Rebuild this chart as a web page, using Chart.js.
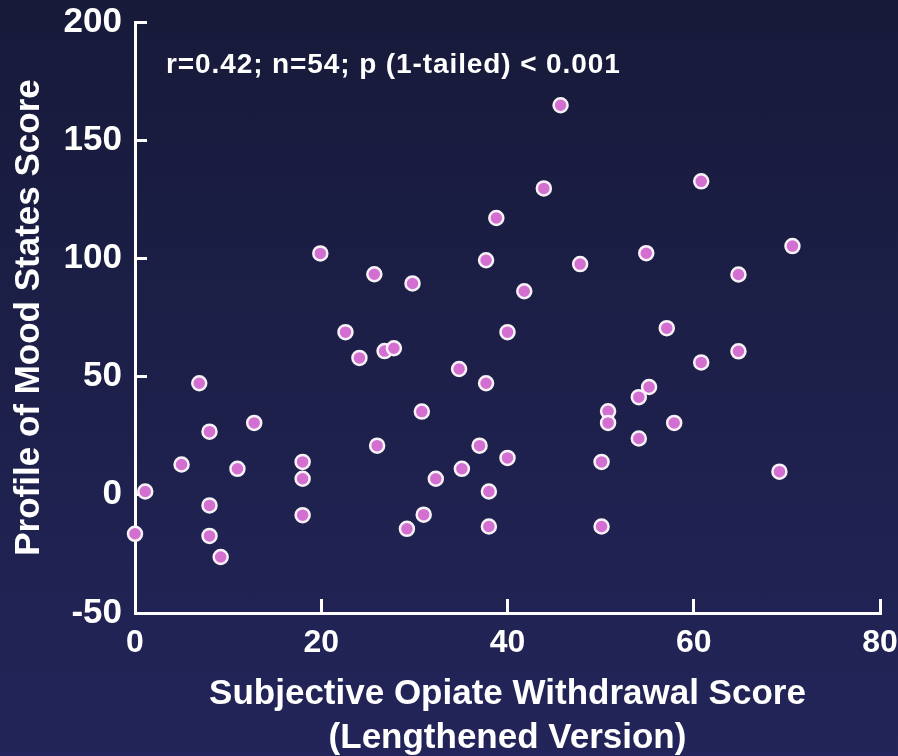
<!DOCTYPE html>
<html>
<head>
<meta charset="utf-8">
<script src="https://cdn.jsdelivr.net/npm/chart.js@4.4.1/dist/chart.umd.min.js"></script>
<style>
  html, body { margin: 0; padding: 0; }
  body {
    width: 898px;
    height: 756px;
    overflow: hidden;
    background: linear-gradient(to bottom, #171a39, #23255a);
  }
  canvas { display: block; }
</style>
</head>
<body>
<canvas id="chart" width="898" height="756"></canvas>
<script>
// Subjective Opiate Withdrawal Score (x) vs Profile of Mood States Score (y)
const withdrawalScores = [
  0, 1.1, 5.0, 6.9, 8.0, 8.0, 8.0, 9.2, 11.0, 12.8,
  18.0, 18.0, 18.0, 19.9, 22.6, 24.1, 25.7, 26.0, 26.8, 27.8,
  29.8, 29.2, 30.8, 31.0, 32.3, 34.8, 35.1, 37.0, 37.7, 37.7,
  38.0, 38.0, 38.8, 40.0, 40.0, 41.8, 43.9, 45.7, 47.8, 50.1,
  50.1, 50.8, 50.8, 54.1, 54.1, 54.9, 55.2, 57.1, 57.9, 60.8,
  60.8, 64.8, 64.8, 69.2, 70.6
];
const moodScores = [
  -16.5, 1.4, 12.8, 47.2, 26.7, -4.5, -17.4, -26.3, 11.0, 30.4,
  13.9, 6.8, -8.6, 102.1, 68.8, 57.9, 93.3, 20.8, 60.8, 62.0,
  89.4, -14.4, 35.2, -8.4, 6.8, 53.2, 11.0, 20.8, 99.2, 47.2,
  1.4, -13.4, 117.1, 68.8, 15.6, 86.1, 129.6, 164.8, 97.6, 13.9,
  -13.4, 35.3, 30.4, 41.3, 23.8, 102.2, 45.6, 70.5, 30.4, 132.6,
  56.0, 93.2, 60.7, 9.8, 105.2
];
const xTicks = [0, 20, 40, 60, 80];
const yTicks = [-50, 0, 50, 100, 150, 200];
const xTitle = ['Subjective Opiate Withdrawal Score', '(Lengthened Version)'];
const yTitle = 'Profile of Mood States Score';
const statsNote = 'r=0.42; n=54; p (1-tailed) < 0.001';

const fontFamily = '"Liberation Sans", Arial, Helvetica, sans-serif';

const points = withdrawalScores.map((x, i) => ({ x: x, y: moodScores[i] }));

// stats line in the upper left of the plot
const notePlugin = {
  id: 'statsNote',
  afterDraw(chart) {
    const ctx = chart.ctx;
    const area = chart.chartArea;
    ctx.save();
    ctx.font = 'bold 28px ' + fontFamily;
    ctx.letterSpacing = '0.9px';
    ctx.fillStyle = '#ffffff';
    ctx.textBaseline = 'alphabetic';
    ctx.fillText(statsNote, area.left + 31, area.top + 51);
    ctx.restore();
  }
};

new Chart(document.getElementById('chart').getContext('2d'), {
  type: 'scatter',
  data: {
    datasets: [{
      data: points,
      backgroundColor: '#d46fd2',
      borderColor: '#f6f2f6',
      borderWidth: 2.5,
      pointRadius: 7,
      pointHoverRadius: 7,
      clip: false
    }]
  },
  options: {
    responsive: false,
    animation: false,
    layout: {
      padding: { top: 22, right: 18, bottom: 0, left: 0 }
    },
    plugins: {
      legend: { display: false },
      tooltip: { enabled: false }
    },
    scales: {
      x: {
        type: 'linear',
        min: xTicks[0],
        max: xTicks[xTicks.length - 1],
        ticks: {
          stepSize: xTicks[1] - xTicks[0],
          color: '#ffffff',
          padding: 25,
          font: { family: fontFamily, size: 32, weight: 'bold' }
        },
        grid: {
          drawOnChartArea: false,
          tickLength: -14,
          tickColor: '#ffffff',
          tickWidth: 3
        },
        border: { display: true, color: '#ffffff', width: 3 },
        title: {
          display: true,
          text: xTitle,
          color: '#ffffff',
          font: { family: fontFamily, size: 35, weight: 'bold', lineHeight: 1.25 },
          padding: { top: 0, bottom: -4 }
        },
        afterFit(scale) {
          scale.height = 143;
          scale.paddingLeft = 0;
          scale.paddingRight = 0;
        }
      },
      y: {
        type: 'linear',
        min: yTicks[0],
        max: yTicks[yTicks.length - 1],
        ticks: {
          stepSize: yTicks[1] - yTicks[0],
          color: '#ffffff',
          padding: 25,
          font: { family: fontFamily, size: 35, weight: 'bold' }
        },
        grid: {
          drawOnChartArea: false,
          tickLength: -12,
          tickColor: '#ffffff',
          tickWidth: 3
        },
        border: { display: true, color: '#ffffff', width: 3 },
        title: {
          display: true,
          text: yTitle,
          color: '#ffffff',
          font: { family: fontFamily, size: 35, weight: 'bold', lineHeight: 1.2 },
          padding: { top: 8, bottom: 0 }
        },
        afterFit(scale) {
          scale.width = 135;
          scale.paddingTop = 0;
          scale.paddingBottom = 0;
        }
      }
    }
  },
  plugins: [notePlugin]
});
</script>
</body>
</html>
